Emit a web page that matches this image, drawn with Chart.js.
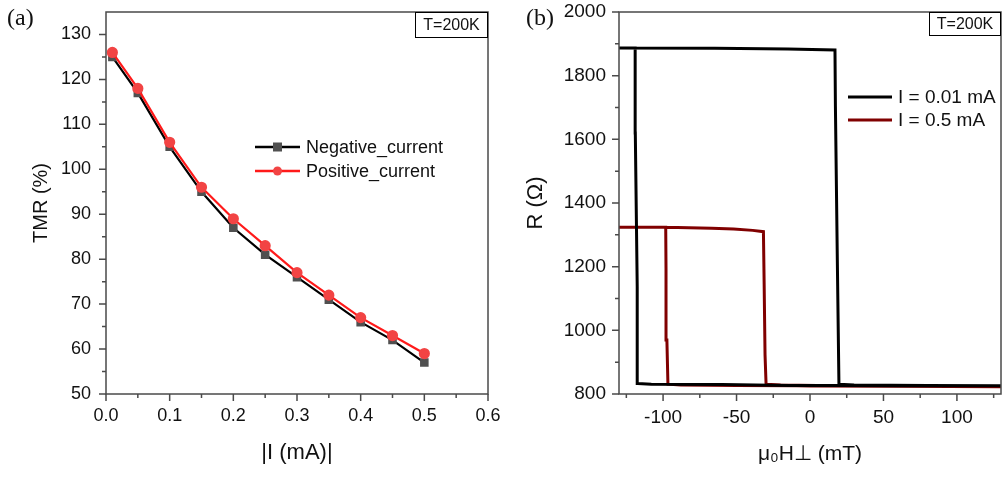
<!DOCTYPE html>
<html>
<head>
<meta charset="utf-8">
<script src="https://cdn.jsdelivr.net/npm/chart.js@4.4.0/dist/chart.umd.min.js"></script>
<style>
  body { margin: 0; background: #fff; width: 1002px; height: 479px; position: relative; overflow: hidden; }
  .panel { position: absolute; top: 0; height: 479px; }
  #panelA { left: 0; width: 500px; }
  #panelB { left: 500px; width: 502px; }
  .tag { position: absolute; top: 5px; font-family: 'Liberation Serif', 'Times New Roman', serif; font-size: 24px; line-height: 1; color: #111; }
</style>
</head>
<body>
<div class="panel" id="panelA"><canvas id="tmrChart" width="500" height="479"></canvas></div>
<div class="panel" id="panelB"><canvas id="loopChart" width="502" height="479"></canvas></div>
<div class="tag" style="left:7px">(a)</div>
<div class="tag" style="left:526px">(b)</div>
<script>
// (a) TMR vs |I|
const currentAbs = [0.01, 0.05, 0.1, 0.15, 0.2, 0.25, 0.3, 0.35, 0.4, 0.45, 0.5];
const tmrNegative = [125, 117, 105, 95, 87, 81, 76, 71, 66, 62, 57];
const tmrPositive = [126, 118, 106, 96, 89, 83, 77, 72, 67, 63, 59];

// (b) R-H loops, sweep down from +130 mT then back up
const field001 = [130, 60, 20, -14, -60, -108, -117.3, -117.6, -118.9, -119, -130,
                  -130, -65, -15, 17, 17.3, 18.6, 19.7, 30, 80, 130];
const res001 = [826, 826, 827, 827, 830, 831, 833, 1137, 1620, 1887, 1887,
                1887, 1886, 1884, 1881, 1703, 1221, 831, 828, 827, 826];
const field05 = [130, 60, 0, -9, -50, -88, -96.7, -97.4, -98, -98.2, -130,
                 -130, -98, -67, -52, -39, -31.7, -31.2, -30.6, -29.9, -20, 30, 130];
const res05 = [823, 824, 825, 826, 827, 828, 831, 970, 1195, 1324, 1324,
               1324, 1324, 1321, 1318, 1314, 1310, 1143, 923, 831, 828, 825, 823];

const FONT = "Arial, 'Liberation Sans', sans-serif";
const INK = '#111111';

const toPoints = (xs, ys) => xs.map((x, i) => ({ x: x, y: ys[i] }));

// fixed axis thickness so the plot boxes land where the figure has them
function fixSize(size) {
    return function (scale) {
        if (scale.isHorizontal()) scale.height = size; else scale.width = size;
        scale.paddingLeft = scale.paddingRight = scale.paddingTop = scale.paddingBottom = 0;
    };
}

// frame, outward major/minor ticks, legend and T=200K box
const panelDecor = {
    id: 'panelDecor',
    afterDatasetsDraw(chart, args, o) {
        const { ctx, chartArea: a } = chart;
        const xs = chart.scales.x, ys = chart.scales.y;
        ctx.save();

        ctx.strokeStyle = '#4a4a4a';
        ctx.lineWidth = 1.5;
        ctx.strokeRect(a.left, a.top, a.right - a.left, a.bottom - a.top);

        const marks = (scale) => {
            const major = scale.ticks.map(t => t.value);
            const half = (major[1] - major[0]) / 2;
            const minor = [major[0] - half].concat(major.map(v => v + half));
            return { major, minor: minor.filter(v => v > scale.min + 1e-9 && v < scale.max - 1e-9) };
        };
        const mx = marks(xs), my = marks(ys);
        ctx.beginPath();
        [[mx.major, 7], [mx.minor, 4]].forEach(([vals, len]) => vals.forEach(v => {
            const p = xs.getPixelForValue(v);
            ctx.moveTo(p, a.bottom); ctx.lineTo(p, a.bottom + len);
        }));
        [[my.major, 7], [my.minor, 4]].forEach(([vals, len]) => vals.forEach(v => {
            const p = ys.getPixelForValue(v);
            ctx.moveTo(a.left, p); ctx.lineTo(a.left - len, p);
        }));
        ctx.stroke();

        // legend
        const L = o.legend;
        ctx.font = L.size + 'px ' + FONT;
        ctx.textBaseline = 'middle';
        ctx.textAlign = 'left';
        chart.data.datasets.forEach((ds, i) => {
            const y = L.y + i * L.dy;
            ctx.strokeStyle = ds.borderColor;
            ctx.lineWidth = L.lineWidth;
            ctx.beginPath(); ctx.moveTo(L.x, y); ctx.lineTo(L.x + L.len, y); ctx.stroke();
            if (ds.pointRadius > 0) {
                const cx = L.x + L.len / 2, r = ds.pointRadius;
                ctx.fillStyle = ds.pointBackgroundColor;
                if (ds.pointStyle === 'rect') ctx.fillRect(cx - r, y - r, 2 * r, 2 * r);
                else { ctx.beginPath(); ctx.arc(cx, y, r, 0, Math.PI * 2); ctx.fill(); }
            }
            ctx.fillStyle = INK;
            ctx.fillText(ds.label, L.x + L.len + L.gap, y + 1);
        });

        // temperature tag
        const T = o.tag;
        ctx.strokeStyle = '#000';
        ctx.lineWidth = 1;
        ctx.strokeRect(a.right - T.w + 0.5, a.top + 0.5, T.w - 1, T.h);
        ctx.fillStyle = INK;
        ctx.font = '16px ' + FONT;
        ctx.textAlign = 'center';
        ctx.fillText(T.text, a.right - T.w / 2, a.top + T.h / 2 + 1);
        ctx.restore();
    }
};

function axisFont(size) { return { family: FONT, size: size }; }

// (a)
new Chart(document.getElementById('tmrChart'), {
    type: 'scatter',
    data: {
        datasets: [
            {
                label: 'Negative_current',
                data: toPoints(currentAbs, tmrNegative),
                showLine: true,
                borderColor: '#000000',
                borderWidth: 2.2,
                pointStyle: 'rect',
                pointRadius: 4.5,
                pointBackgroundColor: '#505050',
                pointBorderColor: '#505050',
                order: 1
            },
            {
                label: 'Positive_current',
                data: toPoints(currentAbs, tmrPositive),
                showLine: true,
                borderColor: '#ff1a1a',
                borderWidth: 2.2,
                pointStyle: 'circle',
                pointRadius: 4.5,
                pointBackgroundColor: '#f24444',
                pointBorderColor: '#f24444',
                order: 0
            }
        ]
    },
    options: {
        responsive: false,
        animation: false,
        devicePixelRatio: 1,
        layout: { padding: { left: 0, top: 12, right: 12, bottom: 0 } },
        scales: {
            x: {
                type: 'linear', min: 0, max: 0.6,
                afterFit: fixSize(85),
                grid: { display: false, drawTicks: false },
                border: { display: false },
                ticks: { stepSize: 0.1, includeBounds: false, padding: 11, color: INK, font: axisFont(18),
                         maxRotation: 0, autoSkip: false, callback: v => v.toFixed(1) },
                title: { display: true, text: '|I (mA)|', color: INK, font: axisFont(22), padding: { top: 0, bottom: 13 } }
            },
            y: {
                type: 'linear', min: 50, max: 135,
                afterFit: fixSize(106),
                grid: { display: false, drawTicks: false },
                border: { display: false },
                ticks: { stepSize: 10, includeBounds: false, padding: 15, color: INK, font: axisFont(18) },
                title: { display: true, text: 'TMR (%)', color: INK, font: axisFont(20), padding: { top: 29, bottom: 0 } }
            }
        },
        plugins: {
            legend: { display: false },
            tooltip: { enabled: false },
            panelDecor: {
                legend: { x: 255, y: 147, dy: 24, len: 45, gap: 6, size: 18, lineWidth: 2.5 },
                tag: { text: 'T=200K', w: 73, h: 25 }
            }
        }
    },
    plugins: [panelDecor]
});

// (b)
new Chart(document.getElementById('loopChart'), {
    type: 'scatter',
    data: {
        datasets: [
            {
                label: 'I = 0.01 mA',
                data: toPoints(field001, res001),
                showLine: true,
                borderColor: '#000000',
                borderWidth: 3,
                pointRadius: 0
            },
            {
                label: 'I = 0.5 mA',
                data: toPoints(field05, res05),
                showLine: true,
                borderColor: '#800000',
                borderWidth: 3,
                pointRadius: 0
            }
        ]
    },
    options: {
        responsive: false,
        animation: false,
        devicePixelRatio: 1,
        layout: { padding: { left: 0, top: 12, right: 1, bottom: 0 } },
        scales: {
            x: {
                type: 'linear', min: -130, max: 130,
                afterFit: fixSize(85),
                grid: { display: false, drawTicks: false },
                border: { display: false },
                ticks: { stepSize: 50, includeBounds: false, padding: 12, color: INK, font: axisFont(19),
                         maxRotation: 0, autoSkip: false, callback: v => String(v) },
                title: { display: true, text: 'μ₀H⊥ (mT)', color: INK, font: axisFont(21), padding: { top: 0, bottom: 12 } }
            },
            y: {
                type: 'linear', min: 800, max: 2000,
                afterFit: fixSize(119),
                grid: { display: false, drawTicks: false },
                border: { display: false },
                ticks: { stepSize: 200, includeBounds: false, padding: 13, color: INK, font: axisFont(19),
                         callback: v => String(v) },
                title: { display: true, text: 'R (Ω)', color: INK, font: axisFont(22), padding: { top: 23, bottom: 0 } }
            }
        },
        plugins: {
            legend: { display: false },
            tooltip: { enabled: false },
            panelDecor: {
                legend: { x: 348, y: 97, dy: 23, len: 44, gap: 6, size: 19, lineWidth: 3 },
                tag: { text: 'T=200K', w: 72, h: 23 }
            }
        }
    },
    plugins: [panelDecor]
});
</script>
</body>
</html>
